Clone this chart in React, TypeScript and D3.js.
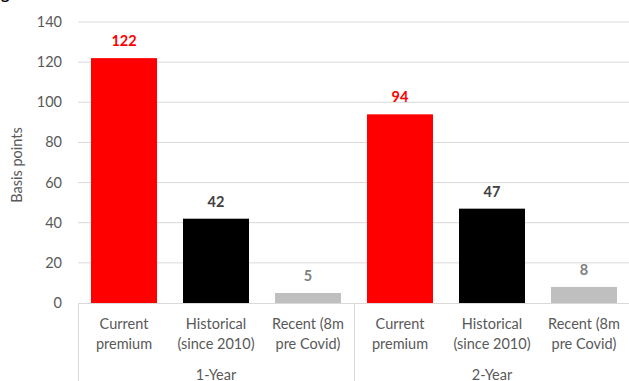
import React from "react";
import * as d3 from "d3";

const groups = ["1-Year", "2-Year"];
const categories = [
  ["Current", "premium"],
  ["Historical", "(since 2010)"],
  ["Recent (8m", "pre Covid)"],
];
const values1Year = [122, 42, 5];
const values2Year = [94, 47, 8];
const barColors = ["#ff0000", "#000000", "#bfbfbf"];
const labelColors = ["#ff0000", "#404040", "#808080"];
const yTicks = [0, 20, 40, 60, 80, 100, 120, 140];

const W = 629;
const H = 381;
const left = 78;
const right = 630;
const top = 22;
const bottom = 303;

export default function App() {
  const allValues = [values1Year, values2Year];
  const keys: string[] = [];
  groups.forEach((g) => categories.forEach((c) => keys.push(g + "|" + c.join(" "))));
  const x = d3.scaleBand<string>().domain(keys).range([left, right]).paddingInner(26 / 92).paddingOuter(13 / 92);
  const xg = d3.scaleBand<string>().domain(groups).range([left, right]);
  const y = d3.scaleLinear().domain([0, 140]).range([bottom, top]);
  const font = "Lato, 'Open Sans', sans-serif";
  const textColor = "#595959";

  return (
    <svg width={W} height={H} style={{ position: "absolute", left: 0, top: 0, background: "#fff" }}>
      <text x={1} y={-1} fontFamily={font} fontWeight="bold" fontSize={16} fill="#000">g</text>
      {yTicks.map((t) => (
        <g key={t}>
          {t > 0 && <line x1={left} x2={W} y1={y(t)} y2={y(t)} stroke="#d9d9d9" strokeWidth={1} />}
          <text x={62} y={y(t) + 5} textAnchor="end" fontFamily={font} fontSize={14.5} fill={textColor}>{t}</text>
        </g>
      ))}
      <text transform={`translate(22,165) rotate(-90)`} textAnchor="middle" fontFamily={font} fontSize={14.5} fill={textColor}>Basis points</text>
      {groups.map((g, gi) =>
        categories.map((c, ci) => {
          const k = g + "|" + c.join(" ");
          const v = allValues[gi][ci];
          const bx = x(k)!;
          const bw = x.bandwidth();
          const cx = bx + bw / 2;
          return (
            <g key={k}>
              <rect x={bx} y={y(v)} width={bw} height={bottom - y(v)} fill={barColors[ci]} />
              <text x={cx} y={y(v) - 12} textAnchor="middle" fontFamily={font} fontWeight="bold" fontSize={14.5} fill={labelColors[ci]}>{v}</text>
              <text x={cx} y={329} textAnchor="middle" fontFamily={font} fontSize={14.5} fill={textColor}>{c[0]}</text>
              <text x={cx} y={349} textAnchor="middle" fontFamily={font} fontSize={14.5} fill={textColor}>{c[1]}</text>
            </g>
          );
        })
      )}
      <line x1={left} x2={W} y1={bottom + 0.5} y2={bottom + 0.5} stroke="#d9d9d9" strokeWidth={1} />
      {[left, xg("2-Year")!, right].map((lx, i) => (
        <line key={i} x1={lx + 0.5} x2={lx + 0.5} y1={bottom} y2={H} stroke="#d9d9d9" strokeWidth={1} />
      ))}
      {groups.map((g) => (
        <text key={g} x={xg(g)! + xg.bandwidth() / 2} y={380} textAnchor="middle" fontFamily={font} fontSize={14.5} fill={textColor}>{g}</text>
      ))}
    </svg>
  );
}
